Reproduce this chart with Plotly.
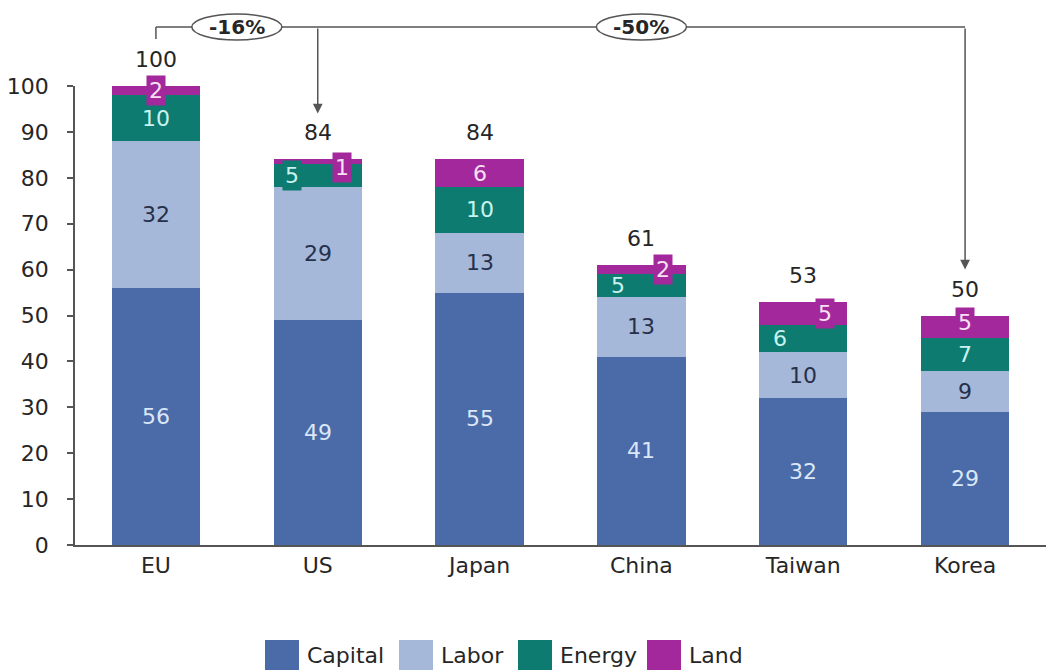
import plotly.graph_objects as go

# ---- data -------------------------------------------------------------
regions = ["EU", "US", "Japan", "China", "Taiwan", "Korea"]
capital = [56, 49, 55, 41, 32, 29]
labor = [32, 29, 13, 13, 10, 9]
energy = [10, 5, 10, 5, 6, 7]
land = [2, 1, 6, 2, 5, 5]
totals = [100, 84, 84, 61, 53, 50]
y_ticks = [0, 10, 20, 30, 40, 50, 60, 70, 80, 90, 100]

series = [
    ("Capital", capital, "#4a6ba7", "#dbe7f8"),
    ("Labor", labor, "#a6b8da", "#27304a"),
    ("Energy", energy, "#0d7b70", "#c9f3ee"),
    ("Land", land, "#a3289c", "#f8e0f4"),
]

# label placement for the thin segments: (region index, series) -> (xshift px, yshift px, boxed)
placement = {
    (0, "Land"): (0, 0, True),
    (1, "Energy"): (-26, 0, True),
    (1, "Land"): (24, -6, True),
    (3, "Energy"): (-23, 0, False),
    (3, "Land"): (22, 0, True),
    (4, "Energy"): (-23, 0, False),
    (4, "Land"): (22, 0, True),
    (5, "Land"): (0, 4, True),
}

FONT = "DejaVu Sans"
FS = 22
TXT = "#262626"
W, H = 1048, 672
ML, MR, MT, MB = 75, 2, 86, 127
PW, PH = W - ML - MR, H - MT - MB
YMAX = 100


def ypx(v):
    return MT + PH * (1 - v / YMAX)


def xpaper(px):
    return (px - ML) / PW


def ypaper(px):
    return (H - MB - px) / PH


fig = go.Figure()
for name, vals, color, _ in series:
    fig.add_trace(go.Bar(
        x=regions, y=vals, name=name, marker=dict(color=color, line=dict(width=0)),
        width=0.545, showlegend=False, hoverinfo="x+y+name",
    ))

annotations = []
shapes = []

# segment value labels
for i, reg in enumerate(regions):
    base = 0
    for name, vals, color, tcolor in series:
        v = vals[i]
        mid = base + v / 2
        xs, ys, boxed = placement.get((i, name), (0, 0, False))
        ann = dict(
            x=reg, y=mid, xref="x", yref="y", text=str(v), showarrow=False,
            xanchor="center", yanchor="middle",
            xshift=xs, yshift=ys, font=dict(family=FONT, size=FS, color=tcolor),
        )
        if boxed:
            ann.update(bgcolor=color, borderpad=2)
        annotations.append(ann)
        base += v
    # total above the bar
    annotations.append(dict(
        x=reg, y=totals[i], xref="x", yref="y", text=str(totals[i]), showarrow=False,
        xanchor="center", yanchor="bottom", yshift=12,
        font=dict(family=FONT, size=FS, color=TXT),
    ))

# bracket comparing EU with US and Korea
LINE = "#555555"
bracket_px = 27
shapes.append(dict(type="line", xref="x", yref="paper", x0=0, x1=5,
                   y0=ypaper(bracket_px), y1=ypaper(bracket_px),
                   line=dict(color=LINE, width=1.5)))
shapes.append(dict(type="line", xref="x", yref="paper", x0=0, x1=0,
                   y0=ypaper(bracket_px), y1=ypaper(39),
                   line=dict(color=LINE, width=1.5)))

for idx in (1, 5):
    tip = totals[idx] + 10
    annotations.append(dict(
        x=idx, y=tip, xref="x", yref="y", text="", showarrow=True,
        ax=0, ay=bracket_px - ypx(tip), axref="pixel", ayref="pixel",
        arrowhead=2, arrowsize=1.3, arrowwidth=1.5, arrowcolor=LINE, standoff=0,
    ))

for xc, label in ((0.5, "-16%"), (3.0, "-50%")):
    shapes.append(dict(type="circle", xref="x", yref="paper", xsizemode="pixel",
                       ysizemode="pixel", xanchor=xc, yanchor=ypaper(bracket_px),
                       x0=-45, x1=45, y0=-13, y1=13, fillcolor="white",
                       line=dict(color=LINE, width=1.5), layer="above"))
    annotations.append(dict(x=xc, y=ypaper(bracket_px), xref="x", yref="paper",
                            text="<b>%s</b>" % label, showarrow=False,
                            xanchor="center", yanchor="middle",
                            font=dict(family=FONT, size=20, color=TXT)))

# legend row
legend_x = [265, 399, 518, 647]
for (name, _, color, _), lx in zip(series, legend_x):
    shapes.append(dict(type="rect", xref="paper", yref="paper",
                       x0=xpaper(lx), x1=xpaper(lx + 34),
                       y0=ypaper(670), y1=ypaper(640),
                       fillcolor=color, line=dict(width=0)))
    annotations.append(dict(x=xpaper(lx + 40), y=ypaper(655), xref="paper", yref="paper",
                            text=name, showarrow=False, xanchor="left", yanchor="middle",
                            font=dict(family=FONT, size=FS, color=TXT)))

fig.update_layout(
    barmode="stack",
    width=W, height=H, autosize=False,
    margin=dict(l=ML, r=MR, t=MT, b=MB),
    paper_bgcolor="white", plot_bgcolor="white",
    font=dict(family=FONT, size=FS, color=TXT),
    annotations=annotations, shapes=shapes,
    xaxis=dict(range=[-0.5, 5.5], showline=True, linecolor=LINE, linewidth=1.5,
               ticks="", showgrid=False, zeroline=False,
               tickfont=dict(family=FONT, size=FS, color=TXT)),
    yaxis=dict(range=[0, YMAX], tickvals=y_ticks, showline=True, linecolor=LINE,
               linewidth=1.5, ticks="outside", ticklen=6, tickcolor=LINE, tickwidth=1.5,
               showgrid=False, zeroline=False, ticklabelstandoff=14,
               tickfont=dict(family=FONT, size=FS, color=TXT)),
)

fig.write_html("out.html")
